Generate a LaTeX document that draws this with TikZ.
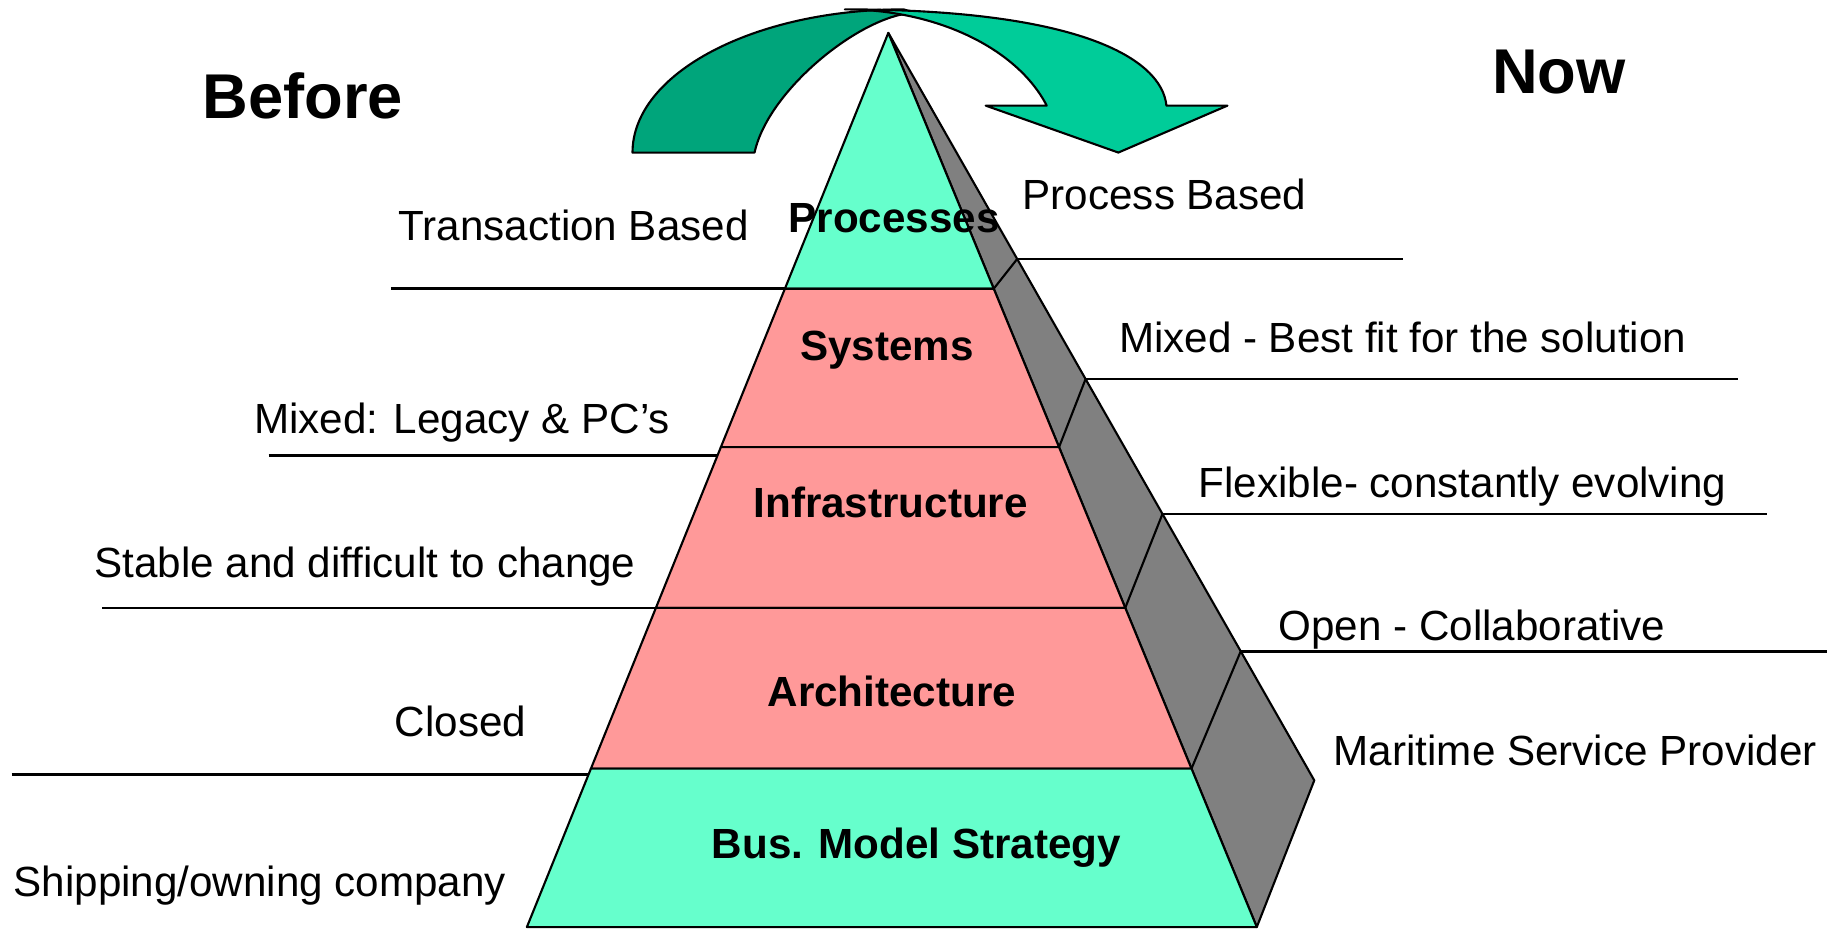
\documentclass[tikz,border=0pt]{standalone}
\usepackage{fontspec}
\setmainfont{Liberation Sans}
\usetikzlibrary{calc}
\definecolor{pyrgreen}{HTML}{66FFCC}
\definecolor{pyrpink}{HTML}{FF9999}
\definecolor{sidegray}{HTML}{808080}
\definecolor{arrowdark}{HTML}{00A57B}
\definecolor{arrowlight}{HTML}{00CC99}
\tikzset{
  outline/.style={draw=black, line width=0.6pt, line join=round}, % edges of the filled shapes
  guide/.style={draw=black, line width=0.7pt}, % thin label rules
  sidetext/.style={font=\fontsize{12}{14}\selectfont, inner sep=0pt, anchor=base west},
  bandtext/.style={font=\bfseries\fontsize{12}{14}\selectfont, inner sep=0pt, anchor=base},
  heading/.style={font=\bfseries\fontsize{18}{22}\selectfont, inner sep=0pt, anchor=base west},
}

\begin{document}
\begin{tikzpicture}[x=0.011735cm,y=-0.011735cm]
  \useasboundingbox (0,0) rectangle (1568,791);
  % curved arrow: back band, then front band with head
  \draw[outline, fill=arrowdark] (539,130) .. controls (539,62.6) and (642.4,8) .. (770,8)
    -- (780,11) .. controls (737,11) and (655,75) .. (643,130) -- cycle;
  \draw[outline, fill=arrowlight] (720,8) .. controls (920,8) and (990,50) .. (994,90)
    -- (1046,90) -- (953,130) -- (840,90) -- (892,90)
    .. controls (866.6,40.9) and (797.6,8) .. (720,8) -- cycle;

  % pyramid corners
  \coordinate (apex) at (757,28);
  \coordinate (bl) at (449,790);
  \coordinate (br) at (1071,790);
  \coordinate (tip) at (1120,665);

  % side face
  \draw[outline, fill=sidegray] (apex) -- (tip) -- (br) -- cycle;

  % front bands
  \foreach \ta/\tb/\col in {0/.2861/pyrgreen, .2861/.4633/pyrpink, .4633/.6430/pyrpink,
                            .6430/.8228/pyrpink, .8228/1/pyrgreen}
    \draw[outline, fill=\col] ($(apex)!\ta!(bl)$) -- ($(apex)!\tb!(bl)$)
      -- ($(apex)!\tb!(br)$) -- ($(apex)!\ta!(br)$) -- cycle;

  % side dividers and right rules
  \foreach \tf/\tout/\xe [count=\i] in {.2861/.3025/1196, .4633/.4631/1481,
                                        .6430/.6436/1506, .8228/.8273/1557} {
    \coordinate (rs\i) at ($(apex)!\tout!(tip)$);
    \coordinate (re\i) at (\xe,0 |- rs\i);
    \draw[outline] ($(apex)!\tf!(br)$) -- (rs\i);
    \draw[guide] (rs\i) -- (re\i);
  }

  % left rules
  \foreach \tleft/\xs [count=\i] in {.2861/333, .4724/229, .6430/87, .8294/10} {
    \coordinate (le\i) at ($(apex)!\tleft!(bl)$);
    \coordinate (ls\i) at (\xs,0 |- le\i);
    \draw[guide] (ls\i) -- (le\i);
  }

  % headings
  \node[heading] (before) at (172,101) {Before};
  \node[heading] (now) at (1271,80) {Now};

  % band names
  \node[bandtext] (processes) at (762,198) {Processes};
  \node[bandtext] (systems) at (756,307) {Systems};
  \node[bandtext] (infra) at (759,441) {Infrastructure};
  \node[bandtext] (archi) at (760,602) {Architecture};
  \node[bandtext] (busmodel) at (781,732) {Bus. Model Strategy};

  % before / now labels
  \node[sidetext] (transaction) at (339,205) {Transaction Based};
  \node[sidetext] (process) at (871,178.5) {Process Based};
  \node[sidetext] (legacy) at (216,369) {Mixed: Legacy \& PC's};
  \node[sidetext] (bestfit) at (953,300.5) {Mixed - Best fit for the solution};
  \node[sidetext] (flexible) at (1021,424) {Flexible- constantly evolving};
  \node[sidetext] (stable) at (80,492) {Stable and difficult to change};
  \node[sidetext] (open) at (1089,546) {Open - Collaborative};
  \node[sidetext] (closed) at (336,628) {Closed};
  \node[sidetext] (maritime) at (1136,652.5) {Maritime Service Provider};
  \node[sidetext] (shipping) at (11,764) {Shipping/owning company};
\end{tikzpicture}
\end{document}
